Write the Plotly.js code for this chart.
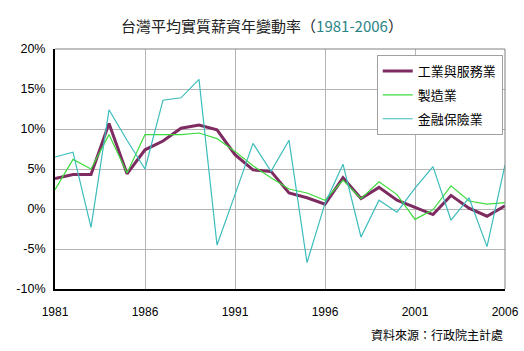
<!DOCTYPE html>
<html>
<head>
<meta charset="utf-8">
<script src="https://cdn.plot.ly/plotly-3.0.1.min.js"></script>
<style>html,body{margin:0;padding:0;background:#fff;}#chart{width:524px;height:351px;}</style>
</head>
<body>
<div id="chart"></div>
<script>
const years = [1981,1982,1983,1984,1985,1986,1987,1988,1989,1990,1991,1992,1993,1994,1995,1996,1997,1998,1999,2000,2001,2002,2003,2004,2005,2006];
const industryService = [3.8,4.3,4.3,10.7,4.4,7.4,8.5,10.1,10.5,9.9,6.8,4.9,4.7,2.0,1.4,0.6,3.9,1.3,2.7,1.1,0.2,-0.7,1.7,0.1,-0.9,0.4];
const manufacturing = [2.4,6.2,5.0,9.3,4.5,9.3,9.3,9.3,9.5,8.8,7.2,5.4,3.9,2.5,2.0,1.1,3.6,1.3,3.4,1.8,-1.3,-0.1,2.9,1.0,0.6,0.8];
const finance = [6.5,7.1,-2.3,12.4,8.6,5.0,13.6,13.9,16.2,-4.5,1.8,8.2,4.7,8.6,-6.7,0.7,5.6,-3.5,1.1,-0.4,2.6,5.3,-1.4,1.4,-4.7,5.5];
const seriesNames = ['工業與服務業','製造業','金融保險業'];
const xTicks = [1981,1986,1991,1996,2001,2006];
const yTicks = [-10,-5,0,5,10,15,20];
const yTickText = ['-10%','-5%','0%','5%','10%','15%','20%'];

const cjk = '"Noto Sans CJK TC", "Noto Sans CJK SC", sans-serif';
const latin = '"Liberation Sans", Arial, sans-serif';

const traces = [
  {x: years, y: industryService, name: seriesNames[0], legendgroup: 'a', mode: 'lines', line: {color: '#7d2b60', width: 3}},
  {x: years, y: manufacturing, name: seriesNames[1], legendgroup: 'b', mode: 'lines', line: {color: '#3ddc3d', width: 1.2}},
  {x: years, y: finance, name: seriesNames[2], legendgroup: 'c', mode: 'lines', line: {color: '#3cbcbc', width: 1.2}}
];

const layout = {
  width: 524, height: 351,
  margin: {l: 55, r: 19, t: 49, b: 62},
  paper_bgcolor: '#fff', plot_bgcolor: '#fff',
  showlegend: true,
  title: {
    text: '台灣平均實質薪資年變動率（<span style="color:#2b8585">1981-2006</span>）',
    font: {family: cjk, size: 15, color: '#222'},
    x: 0.5, xanchor: 'center', y: 0.925, yanchor: 'middle'
  },
  xaxis: {
    range: [1981, 2006],
    tickvals: xTicks, ticktext: xTicks.map(String),
    showgrid: true, gridcolor: '#b4b4b4', gridwidth: 1,
    showline: true, linecolor: '#000', linewidth: 2, mirror: false,
    ticks: '', ticklen: 0, ticklabelstandoff: 11,
    tickfont: {family: latin, size: 12, color: '#000'},
    zeroline: false, fixedrange: true
  },
  yaxis: {
    range: [-10, 20],
    tickvals: yTicks, ticktext: yTickText,
    showgrid: true, gridcolor: '#b4b4b4', gridwidth: 1,
    showline: true, linecolor: '#000', linewidth: 2,
    ticks: '', ticklen: 0, ticklabelstandoff: 5,
    tickfont: {family: latin, size: 12.5, color: '#000'},
    zeroline: false, fixedrange: true
  },
  legend: {
    x: 0.995, xanchor: 'right', y: 0.975, yanchor: 'top',
    bgcolor: '#fff', bordercolor: '#a0a0a0', borderwidth: 1,
    font: {family: cjk, size: 13, color: '#000'},
    tracegroupgap: 4
  },
  shapes: [
    {type: 'line', xref: 'paper', yref: 'paper', x0: 0, x1: 1, y0: 1, y1: 1, line: {color: '#808080', width: 1}},
    {type: 'line', xref: 'paper', yref: 'paper', x0: 1, x1: 1, y0: 0, y1: 1, line: {color: '#808080', width: 1}}
  ],
  annotations: [
    {text: '資料來源：行政院主計處', xref: 'paper', yref: 'paper', x: 1.0, y: -0.19, xanchor: 'right', yanchor: 'middle', showarrow: false, font: {family: cjk, size: 12, color: '#000'}}
  ]
};

Plotly.newPlot('chart', traces, layout, {staticPlot: true, displayModeBar: false});
</script>
</body>
</html>
